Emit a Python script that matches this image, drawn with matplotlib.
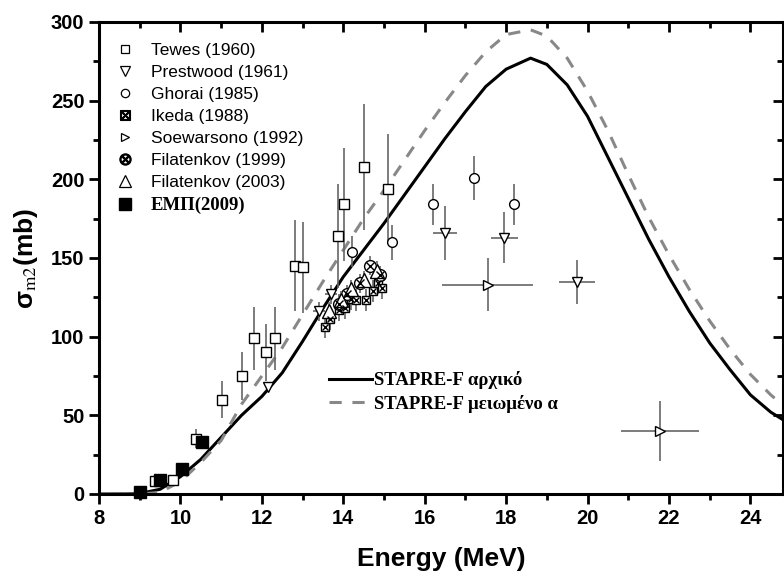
import numpy as np
import matplotlib
matplotlib.use('Agg')
import matplotlib.pyplot as plt
from matplotlib.lines import Line2D

plt.rcParams['font.family'] = ['Liberation Sans', 'DejaVu Sans']
plt.rcParams['mathtext.fontset'] = 'stix'

# STAPRE-F calculations
e_calc = [8, 8.5, 9, 9.5, 10, 10.5, 11, 11.5, 12, 12.5, 13, 13.5, 14, 14.5, 15, 15.5,
          16, 16.5, 17, 17.5, 18, 18.6, 19, 19.5, 20, 20.5, 21, 21.5, 22, 22.5, 23,
          23.5, 24, 24.5, 25]
s_orig = [0, 0, 0.3, 3, 11, 22, 36, 50, 62, 77, 97, 118, 138, 155, 172, 190,
          208, 226, 243, 259, 270, 277, 273, 260, 240, 214, 188, 162, 138, 116, 96,
          79, 63, 52, 44]
s_red = [0, 0, 0, 1, 8, 20, 34, 57, 75, 93, 114, 135, 155, 175, 193, 212,
         231, 249, 266, 281, 292, 295, 291, 277, 256, 231, 203, 176, 152, 130, 110,
         92, 76, 63, 52]

# experimental data
tewes_e = [9.37, 9.82, 10.38, 11.03, 11.52, 11.81, 12.11, 12.32, 12.82, 13.01, 13.87, 14.01, 14.51, 15.11]
tewes_s = [8, 9, 35, 60, 75, 99, 90, 99, 145, 144, 164, 184, 208, 194]
tewes_err = [0, 0, 6, 12, 15, 20, 18, 20, 29, 29, 33, 36, 40, 35]

prest_e = [12.15, 13.4, 13.7, 16.5, 17.95, 19.75]
prest_s = [68, 116, 127, 166, 163, 135]
prest_xerr = [0, 0.15, 0.15, 0.3, 0.33, 0.44]
prest_err = [0, 6, 6, 17, 16, 14]

ghorai_e = [14.22, 15.2, 16.2, 17.2, 18.2]
ghorai_s = [154, 160, 184, 201, 184]
ghorai_err = [10, 11, 13, 14, 13]

ikeda_e = [13.55, 13.67, 13.9, 14.05, 14.2, 14.32, 14.55, 14.73, 14.86, 14.95]
ikeda_s = [106, 111, 117, 118, 124, 123, 123, 129, 134, 131]
ikeda_err = [7, 7, 7, 7, 7, 7, 7, 7, 7, 7]

soew_e = [17.55, 21.78]
soew_s = [133, 40]
soew_xerr = [1.12, 0.95]
soew_err = [17, 19]

fil99_e = [13.9, 14.1, 14.4, 14.65, 14.9]
fil99_s = [121, 127, 134, 145, 139]
fil99_err = [6, 6, 6, 6, 6]

fil03_e = [13.65, 13.95, 14.2, 14.5, 14.83]
fil03_s = [116, 123, 130, 136, 142]
fil03_err = [6, 6, 6, 6, 6]

emp_e = [9.0, 9.51, 10.03, 10.52]
emp_s = [1.5, 9, 16, 33]

fig = plt.figure(figsize=(7.84, 5.72), dpi=100)
ax = fig.add_axes([0.1263, 0.1364, 0.8724, 0.8252])

ax.plot(e_calc, s_orig, color='black', lw=2.2, zorder=2)
ax.plot(e_calc, s_red, color='#888888', lw=2.2, ls=(0, (4, 3.5)), zorder=2)

ecol = '#666666'
ebw = 1.2
ax.errorbar(tewes_e, tewes_s, yerr=tewes_err, fmt='s', ms=6.5, mfc='white', mec='black', mew=1,
            ecolor=ecol, elinewidth=ebw, capsize=0, zorder=4)
ax.errorbar(prest_e, prest_s, xerr=prest_xerr, yerr=prest_err, fmt='v', ms=7.5, mfc='white', mec='black', mew=1,
            ecolor=ecol, elinewidth=ebw, capsize=0, zorder=4)
ax.errorbar(ghorai_e, ghorai_s, yerr=ghorai_err, fmt='o', ms=7, mfc='white', mec='black', mew=1,
            ecolor=ecol, elinewidth=ebw, capsize=0, zorder=4)
ax.errorbar(ikeda_e, ikeda_s, yerr=ikeda_err, fmt='none', ecolor=ecol, elinewidth=ebw, capsize=0, zorder=3)
ax.plot(ikeda_e, ikeda_s, 's', ms=6, mfc='white', mec='black', mew=1, zorder=4)
ax.plot(ikeda_e, ikeda_s, 'x', ms=4, mec='black', mew=1, zorder=5)
ax.errorbar(soew_e, soew_s, xerr=soew_xerr, yerr=soew_err, fmt='>', ms=7, mfc='white', mec='black', mew=1,
            ecolor=ecol, elinewidth=ebw, capsize=0, zorder=4)
ax.errorbar(fil99_e, fil99_s, yerr=fil99_err, fmt='none', ecolor=ecol, elinewidth=ebw, capsize=0, zorder=3)
ax.plot(fil99_e, fil99_s, 'o', ms=8.5, mfc='white', mec='black', mew=1, zorder=4)
ax.plot(fil99_e, fil99_s, 'x', ms=6, mec='black', mew=1, zorder=5)
ax.errorbar(fil03_e, fil03_s, yerr=fil03_err, fmt='^', ms=10, mfc='white', mec='black', mew=1,
            ecolor=ecol, elinewidth=ebw, capsize=0, zorder=4)
ax.plot(emp_e, emp_s, 's', ms=8.5, color='black', zorder=6, clip_on=False)

ax.set_xlim(8, 24.8)
ax.set_ylim(0, 300)
ax.set_xticks(np.arange(8, 25, 2))
ax.set_xticks(np.arange(8, 25, 1), minor=True)
ax.set_yticks(np.arange(0, 301, 50))
ax.set_yticks(np.arange(0, 301, 25), minor=True)
for sp in ax.spines.values():
    sp.set_linewidth(2.2)
ax.tick_params(which='both', direction='out', width=2, labelsize=14.5)
ax.tick_params(which='major', length=7)
ax.tick_params(which='minor', length=4)
for lab in ax.get_xticklabels() + ax.get_yticklabels():
    lab.set_fontweight('bold')

# top/right inward ticks
axt = ax.secondary_xaxis('top')
axt.set_xticks(np.arange(8, 25, 2))
axt.set_xticks(np.arange(8, 25, 1), minor=True)
axt.tick_params(which='both', direction='in', width=2, labeltop=False)
axt.tick_params(which='major', length=7)
axt.tick_params(which='minor', length=4)
axr = ax.secondary_yaxis('right')
axr.set_yticks(np.arange(0, 301, 50))
axr.set_yticks(np.arange(0, 301, 25), minor=True)
axr.tick_params(which='both', direction='in', width=2, labelright=False)
axr.tick_params(which='major', length=7)
axr.tick_params(which='minor', length=4)

ax.set_xlabel('Energy (MeV)', fontsize=19, fontweight='bold', labelpad=14)
ax.set_ylabel(r'σ$_{\mathrm{m2}}$(mb)', fontsize=19, fontweight='bold', labelpad=8)

# data legend
h_exp = [
    Line2D([], [], ls='none', marker='s', ms=6, mfc='white', mec='black', mew=0.9),
    Line2D([], [], ls='none', marker='v', ms=7, mfc='white', mec='black', mew=0.9),
    Line2D([], [], ls='none', marker='o', ms=6, mfc='white', mec='black', mew=0.9),
    Line2D([], [], ls='none', marker=r'$\boxtimes$', ms=7, color='black'),
    Line2D([], [], ls='none', marker='>', ms=6, mfc='white', mec='black', mew=0.9),
    Line2D([], [], ls='none', marker=r'$\otimes$', ms=8, color='black'),
    Line2D([], [], ls='none', marker='^', ms=8, mfc='white', mec='black', mew=0.9),
    Line2D([], [], ls='none', marker='s', ms=8, color='black'),
]
l_exp = ['Tewes (1960)', 'Prestwood (1961)', 'Ghorai (1985)', 'Ikeda (1988)',
         'Soewarsono (1992)', 'Filatenkov (1999)', 'Filatenkov (2003)', 'ΕΜΠ(2009)']
leg1 = ax.legend(h_exp, l_exp, loc='upper left', bbox_to_anchor=(0.01, 0.975), frameon=False,
                 fontsize=12.5, labelspacing=0.4, handletextpad=0.9, borderpad=0, handlelength=1.2)
t = leg1.get_texts()[7]
t.set_fontfamily('Liberation Serif')
t.set_fontweight('bold')
t.set_fontsize(13.5)
ax.add_artist(leg1)

h_calc = [Line2D([], [], color='black', lw=2.2),
          Line2D([], [], color='#888888', lw=2.2, ls=(0, (4, 3.5)))]
l_calc = ['STAPRE-F αρχικό', 'STAPRE-F μειωμένο α']
ax.legend(h_calc, l_calc, loc='upper left', bbox_to_anchor=(0.323, 0.28), frameon=False,
          prop={'family': 'Liberation Serif', 'weight': 'bold', 'size': 13.5},
          labelspacing=0.3, handletextpad=0.1, borderpad=0, handlelength=2.3)

fig.savefig('out.png', dpi=100)
